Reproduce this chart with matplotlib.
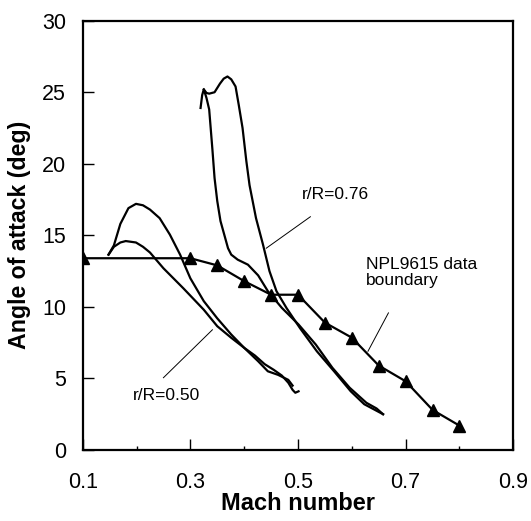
import matplotlib
matplotlib.use("Agg")
import matplotlib.pyplot as plt
from matplotlib.ticker import FixedLocator

plt.rcParams['font.family'] = ['Liberation Sans', 'DejaVu Sans']

# NPL9615 data boundary (triangles)
npl_mach = [0.10, 0.30, 0.35, 0.40, 0.45, 0.50, 0.55, 0.60, 0.65, 0.70, 0.75, 0.80]
npl_aoa  = [13.4, 13.4, 12.9, 11.8, 10.85, 10.85, 8.9, 7.85, 5.9, 4.8, 2.8, 1.7]

# r/R = 0.50, upper curve
r50a_mach = [0.148, 0.158, 0.170, 0.185, 0.199, 0.212, 0.225, 0.243, 0.262, 0.281, 0.300, 0.325,
             0.350, 0.376, 0.400, 0.420, 0.438, 0.455, 0.470, 0.482, 0.490, 0.495, 0.501]
r50a_aoa  = [13.65, 14.3, 15.8, 16.9, 17.2, 17.1, 16.8, 16.2, 15.05, 13.65, 12.0, 10.4,
             9.2, 8.07, 7.14, 6.6, 6.0, 5.6, 5.2, 4.7, 4.2, 4.0, 4.1]
# r/R = 0.50, lower curve
r50b_mach = [0.148, 0.158, 0.170, 0.180, 0.199, 0.212, 0.225, 0.250, 0.287, 0.325, 0.350,
             0.376, 0.400, 0.426, 0.444, 0.463, 0.482, 0.490]
r50b_aoa  = [13.65, 14.2, 14.5, 14.6, 14.5, 14.2, 13.8, 12.7, 11.3, 9.8, 8.65,
             7.84, 7.14, 6.2, 5.5, 5.25, 4.9, 4.5]

# r/R = 0.76, left branch
r76a_mach = [0.319, 0.322, 0.325, 0.330, 0.335, 0.341, 0.345, 0.350, 0.356, 0.363, 0.370, 0.376,
             0.388, 0.407, 0.426, 0.444, 0.470, 0.501, 0.533, 0.564, 0.596, 0.627, 0.646, 0.658]
r76a_aoa  = [23.9, 24.8, 25.2, 24.6, 23.8, 21.0, 19.0, 17.4, 16.0, 15.05, 14.1, 13.65,
             13.3, 12.95, 12.2, 11.1, 9.93, 8.77, 7.37, 5.74, 4.35, 3.3, 2.9, 2.5]
# r/R = 0.76, right branch
r76b_mach = [0.325, 0.330, 0.335, 0.345, 0.355, 0.362, 0.369, 0.376, 0.384, 0.390, 0.397, 0.404,
             0.410, 0.422, 0.435, 0.447, 0.460, 0.479, 0.504, 0.535, 0.567, 0.598, 0.623, 0.658]
r76b_aoa  = [25.2, 24.95, 24.9, 25.0, 25.6, 25.95, 26.1, 25.9, 25.4, 24.1, 22.5, 20.2,
             18.5, 16.2, 14.35, 12.5, 11.1, 9.9, 8.5, 6.9, 5.5, 4.1, 3.2, 2.5]

x_ticks = [0.1, 0.3, 0.5, 0.7, 0.9]
x_minor = [0.2, 0.4, 0.6, 0.8]
y_ticks = [0, 5, 10, 15, 20, 25, 30]

fig = plt.figure(figsize=(5.31, 5.21), dpi=100)
ax = fig.add_axes([0.1557, 0.1363, 0.811, 0.824])

lw = 1.6
ax.plot(npl_mach, npl_aoa, color='black', lw=lw, marker='^', markersize=9, zorder=3)
ax.plot(r50a_mach, r50a_aoa, color='black', lw=lw)
ax.plot(r50b_mach, r50b_aoa, color='black', lw=lw)
ax.plot(r76a_mach, r76a_aoa, color='black', lw=lw)
ax.plot(r76b_mach, r76b_aoa, color='black', lw=lw)

ann_fs = 12.5
ax.text(0.508, 17.55, 'r/R=0.76', fontsize=ann_fs, ha='left', va='baseline')
ax.plot([0.523, 0.441], [16.3, 14.1], color='black', lw=0.7)
ax.text(0.193, 3.5, 'r/R=0.50', fontsize=ann_fs, ha='left', va='baseline')
ax.plot([0.25, 0.341], [5.05, 8.4], color='black', lw=0.7)
ax.text(0.627, 11.55, 'NPL9615 data\nboundary', fontsize=ann_fs, ha='left', va='baseline',
        linespacing=1.05)
ax.plot([0.668, 0.63], [9.58, 6.9], color='black', lw=0.7)

ax.set_xlim(0.1, 0.9)
ax.set_ylim(0, 30)
ax.xaxis.set_major_locator(FixedLocator(x_ticks))
ax.xaxis.set_minor_locator(FixedLocator(x_minor))
ax.yaxis.set_major_locator(FixedLocator(y_ticks))
ax.set_xticklabels([f'{v:.1f}' for v in x_ticks])
ax.set_yticklabels([str(v) for v in y_ticks])
ax.tick_params(axis='both', which='major', direction='in', length=8, width=1.0,
               top=False, right=False)
ax.tick_params(axis='x', which='major', labelsize=15.5, pad=16)
ax.tick_params(axis='y', which='major', labelsize=15.5, pad=12)
ax.tick_params(axis='x', which='minor', direction='in', length=3.2, width=1.0, top=False)

for s in ax.spines.values():
    s.set_linewidth(1.6)

ax.set_xlabel('Mach number', fontsize=17, fontweight='bold')
ax.set_ylabel('Angle of attack (deg)', fontsize=16.7, fontweight='bold')
ax.xaxis.set_label_coords(0.5, -0.097)
ax.yaxis.set_label_coords(-0.12, 0.5)

fig.savefig('out.png', dpi=100)
